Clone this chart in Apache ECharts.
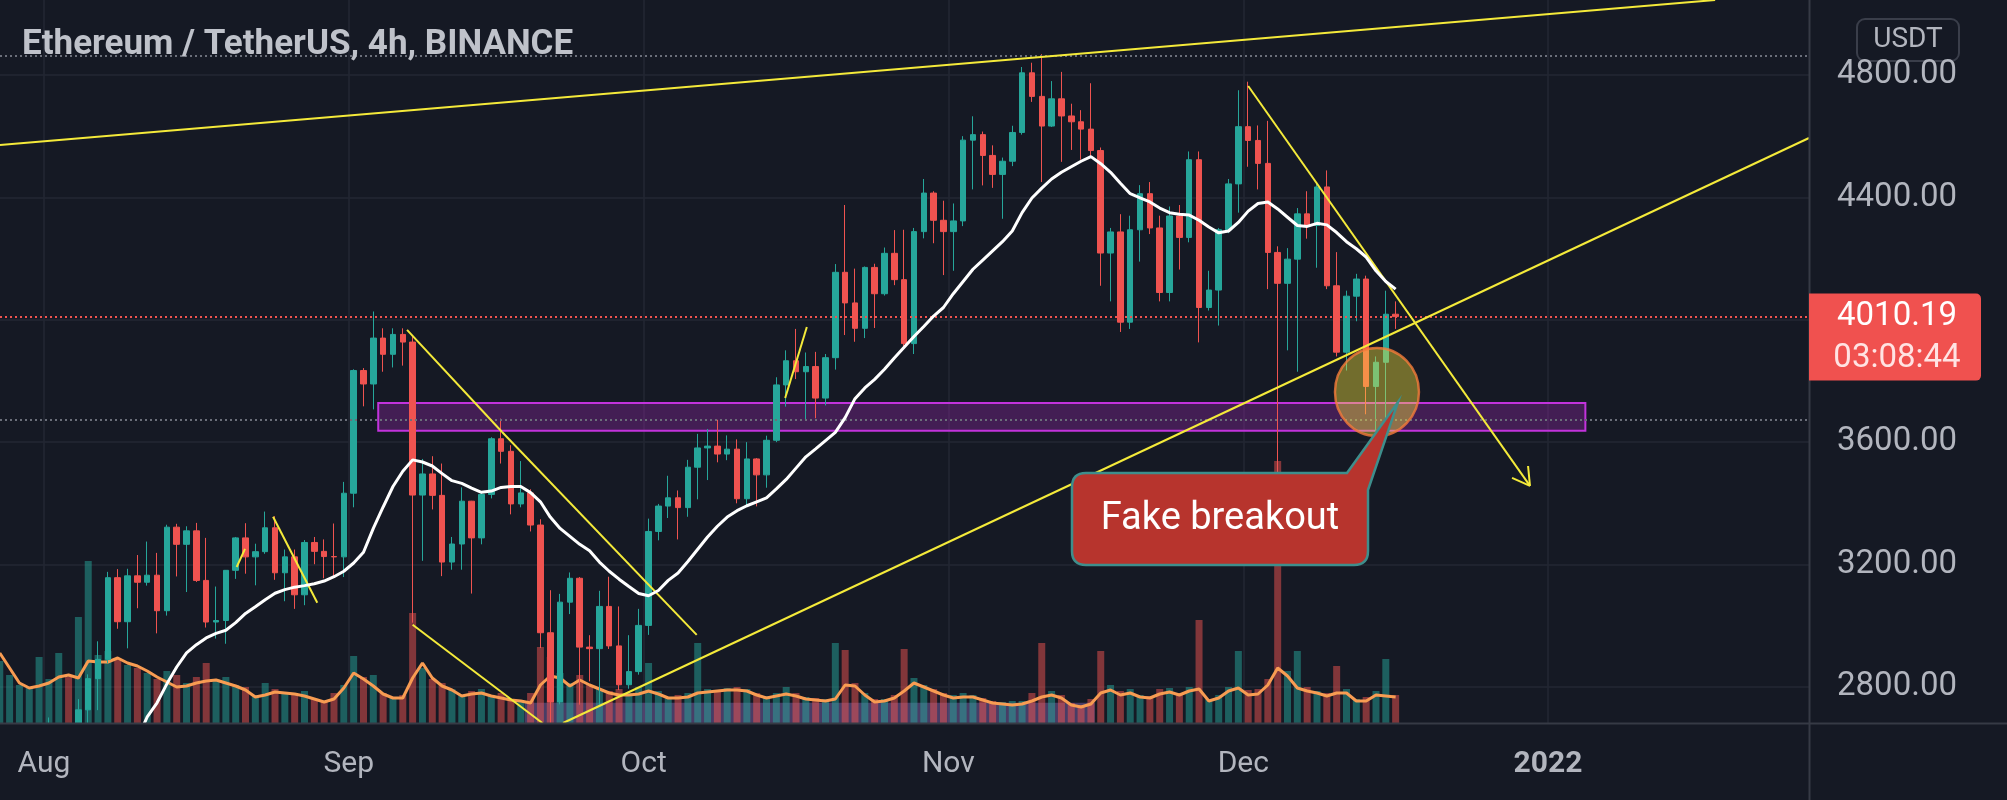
<!DOCTYPE html>
<html>
<head>
<meta charset="utf-8">
<title>Ethereum / TetherUS, 4h, BINANCE</title>
<script src="https://cdn.jsdelivr.net/npm/echarts@6/dist/echarts.min.js"></script>
<style>
  html, body { margin: 0; padding: 0; background: #151924; }
  #chart { width: 2007px; height: 800px; }
</style>
</head>
<body>
<div id="chart"></div>
<script>
// 'YYYY-MM-DD HH:mm' -> UTC ms
function t(s) {
  const [d, hm = '00:00'] = s.split(' ')
  const [y, m, dd] = d.split('-').map(Number)
  const [h, mi] = hm.split(':').map(Number)
  return Date.UTC(y, m - 1, dd, h, mi)
}

// one candle per day, first one is 2021-07-27 (placed at noon UTC)
const firstDay = '2021-07-27 12:00'

// [open, high, low, close]
const candles = [
  [2234, 2319, 2152, 2300], [2300, 2342, 2222, 2300], [2300, 2397, 2256, 2380], [2380, 2468, 2326, 2463], [2463, 2550, 2425, 2536],
  // Aug
  [2536, 2700, 2508, 2557], [2557, 2665, 2540, 2607], [2607, 2630, 2452, 2508], [2508, 2760, 2485, 2725], [2725, 2841, 2527, 2827],
  [2827, 2949, 2724, 2890], [2890, 3176, 2878, 3157], [3157, 3185, 2990, 3013], [3013, 3186, 2926, 3163], [3163, 3231, 3057, 3142],
  [3142, 3275, 3131, 3165], [3165, 3238, 2975, 3049], [3049, 3330, 3033, 3322], [3322, 3333, 3161, 3266], [3266, 3325, 3110, 3310],
  [3310, 3336, 3143, 3148], [3148, 3287, 2994, 3012], [3012, 3128, 2958, 3017], [3017, 3182, 2941, 3181], [3181, 3290, 3153, 3287],
  [3287, 3335, 3170, 3225], [3225, 3268, 3132, 3242], [3242, 3373, 3235, 3320], [3320, 3358, 3150, 3173], [3173, 3249, 3080, 3225],
  [3225, 3249, 3055, 3101], [3101, 3280, 3067, 3272], [3272, 3290, 3201, 3243], [3243, 3282, 3155, 3226], [3226, 3334, 3156, 3225],
  [3225, 3470, 3159, 3433],
  // Sep
  [3433, 3838, 3387, 3834], [3834, 3842, 3717, 3790], [3790, 4027, 3707, 3940], [3940, 3972, 3830, 3887], [3887, 3972, 3844, 3952],
  [3952, 3972, 3850, 3927], [3927, 3950, 3010, 3427], [3427, 3545, 3212, 3496], [3496, 3554, 3380, 3426], [3426, 3530, 3162, 3208],
  [3208, 3290, 3183, 3267], [3267, 3452, 3183, 3407], [3407, 3408, 3105, 3287], [3287, 3434, 3266, 3429], [3429, 3616, 3416, 3611],
  [3611, 3677, 3530, 3570], [3570, 3590, 3364, 3398], [3398, 3538, 3387, 3434], [3434, 3446, 3308, 3329], [3329, 3348, 2927, 2977],
  [2977, 3116, 2652, 2751], [2751, 3104, 2743, 3077], [3077, 3174, 3038, 3155], [3155, 3159, 2742, 2930], [2930, 2969, 2818, 2925],
  [2925, 3114, 2740, 3063], [3063, 3160, 2924, 2934], [2934, 3063, 2790, 2807], [2807, 2969, 2794, 2850], [2850, 3055, 2840, 3001],
  // Oct
  [3001, 3350, 2970, 3308], [3308, 3398, 3279, 3391], [3391, 3490, 3352, 3418], [3418, 3442, 3282, 3386], [3386, 3542, 3356, 3518],
  [3518, 3627, 3413, 3581], [3581, 3643, 3476, 3587], [3587, 3673, 3534, 3561], [3561, 3622, 3541, 3577], [3577, 3609, 3400, 3415],
  [3415, 3600, 3394, 3545], [3545, 3548, 3390, 3493], [3493, 3621, 3451, 3606], [3606, 3812, 3600, 3787], [3787, 3900, 3716, 3866],
  [3866, 3970, 3806, 3830], [3830, 3893, 3674, 3847], [3847, 3895, 3678, 3744], [3744, 3888, 3720, 3876], [3876, 4182, 3837, 4155],
  [4155, 4375, 3950, 4055], [4055, 4167, 3928, 3972], [3972, 4174, 3940, 4171], [4171, 4183, 3973, 4085], [4085, 4236, 4079, 4217],
  [4217, 4293, 4113, 4131], [4131, 4294, 3914, 3922], [3922, 4300, 3888, 4288], [4288, 4460, 4266, 4414], [4414, 4420, 4250, 4325],
  [4325, 4389, 4146, 4288],
  // Nov
  [4288, 4380, 4160, 4323], [4323, 4600, 4306, 4587], [4587, 4665, 4426, 4605], [4605, 4615, 4439, 4537], [4537, 4570, 4431, 4475],
  [4475, 4530, 4330, 4518], [4518, 4634, 4502, 4612], [4612, 4826, 4605, 4807], [4807, 4840, 4712, 4730], [4730, 4868, 4450, 4633],
  [4633, 4780, 4630, 4722], [4722, 4810, 4516, 4666], [4666, 4706, 4555, 4647], [4647, 4685, 4523, 4623], [4623, 4773, 4530, 4553],
  [4553, 4563, 4111, 4218], [4218, 4300, 4060, 4287], [4287, 4345, 3960, 3992], [3992, 4340, 3970, 4294], [4294, 4440, 4190, 4412],
  [4412, 4450, 4280, 4300], [4300, 4340, 4060, 4089], [4089, 4370, 4060, 4339], [4339, 4375, 4164, 4269], [4269, 4550, 4253, 4523],
  [4523, 4550, 3926, 4040], [4040, 4160, 4030, 4097], [4097, 4300, 3981, 4294], [4294, 4460, 4283, 4444], [4444, 4750, 4350, 4631],
  // Dec
  [4631, 4778, 4500, 4586], [4586, 4635, 4426, 4511], [4511, 4650, 4100, 4220], [4220, 4240, 3500, 4119], [4119, 4234, 3900, 4198],
  [4198, 4365, 3830, 4346], [4346, 4420, 4265, 4308], [4308, 4445, 4170, 4434], [4434, 4488, 4100, 4111], [4111, 4221, 3880, 3894],
  [3894, 4095, 3834, 4077], [4077, 4150, 3995, 4133], [4133, 4144, 3691, 3782], [3782, 3880, 3636, 3861], [3861, 4095, 3642, 4018],
  [4018, 4060, 3970, 4010.19]
]

// volume, thousand ETH per 4h bar (typical of that day)
const volumes = [
  62, 48, 38, 36, 66,
  44, 70, 46, 106, 162, 68, 72, 64, 58, 55,
  50, 44, 52, 48, 40, 46, 60, 44, 46, 38,
  36, 28, 40, 34, 30, 28, 32, 24, 22, 30,
  38, 67, 46, 48, 30, 26, 28, 110, 55, 44,
  40, 34, 28, 32, 34, 28, 30, 24, 22, 30,
  76, 66, 50, 40, 48, 38, 34, 32, 34, 30,
  36, 60, 32, 26, 28, 30, 80, 34, 33, 35,
  36, 34, 30, 27, 30, 36, 30, 26, 25, 24,
  80, 73, 40, 30, 24, 24, 28, 74, 45, 38,
  34, 30, 28, 30, 28, 25, 22, 21, 22, 22,
  30, 80, 32, 28, 20, 18, 24, 72, 38, 32,
  34, 28, 27, 34, 35, 30, 36, 103, 24, 28,
  36, 72, 33, 34, 44, 262, 52, 72, 36, 32,
  30, 57, 34, 24, 26, 32, 64, 28
]

// volume moving average (orange)
const volMa = [
  70, 55, 40, 35, 37,
  40, 46, 48, 45, 62, 61, 61, 65, 60, 57,
  52, 46, 41, 36, 37, 40, 42, 43, 40, 37,
  33, 26, 28, 31, 30, 29, 27, 24, 21, 24,
  35, 50, 44, 37, 29, 25, 25, 45, 60, 45,
  37, 33, 27, 29, 30, 27, 25, 23, 22, 20,
  38, 47, 45, 37, 43, 38, 34, 30, 28, 28,
  29, 32, 29, 25, 25, 26, 30, 31, 32, 33,
  33, 32, 28, 25, 27, 29, 27, 24, 23, 22,
  24, 38, 37, 28, 21, 22, 25, 32, 40, 36,
  32, 28, 25, 26, 26, 23, 20, 19, 18, 19,
  22, 26, 28, 25, 18, 16, 19, 30, 33, 28,
  30, 26, 25, 29, 31, 28, 32, 34, 22, 25,
  32, 35, 28, 29, 38, 55, 47, 35, 32, 30,
  27, 30, 30, 22, 22, 28, 27, 26
]

// price moving average (white), starts below the visible range
const priceMa = [
  null, null, null, null, null,
  null, null, null, null, null, null, null, null, null, 2630,
  2702, 2748, 2810, 2865, 2911, 2938, 2960, 2975, 2985, 3010,
  3040, 3062, 3085, 3106, 3118, 3126, 3131, 3137, 3146, 3160,
  3178, 3205, 3240, 3318, 3388, 3455, 3505, 3542, 3535, 3522,
  3497, 3474, 3465, 3450, 3436, 3440, 3452, 3455, 3455, 3435,
  3405, 3355, 3318, 3292, 3266, 3245, 3208, 3178, 3152, 3128,
  3105, 3098, 3115, 3148, 3172, 3210, 3250, 3290, 3325, 3355,
  3376, 3392, 3405, 3418, 3447, 3478, 3515, 3552, 3578, 3605,
  3632, 3680, 3742, 3777, 3805, 3838, 3875, 3910, 3945, 3978,
  4012, 4040, 4085, 4125, 4165, 4195, 4225, 4255, 4290, 4350,
  4398, 4430, 4460, 4482, 4500, 4518, 4533, 4510, 4482, 4446,
  4412, 4398, 4385, 4365, 4350, 4345, 4342, 4325, 4303, 4284,
  4290, 4318, 4355, 4380, 4385, 4362, 4335, 4308, 4305, 4315,
  4310, 4285, 4255, 4232, 4205, 4160, 4125, 4100
]

const monthTicks = ['2021-08-01', '2021-09-01', '2021-10-01', '2021-11-01', '2021-12-01', '2022-01-01']
const monthLabels = ['Aug', 'Sep', 'Oct', 'Nov', 'Dec', '2022']
const priceTicks = [2800, 3200, 3600, 4000, 4400, 4800]
const priceLabels = [2800, 3200, 3600, 4400, 4800]
const lastPrice = 4010.19
const countdown = '03:08:44'

// drawings
const trendLines = [
  [['2021-07-27 12:34', 4571], ['2022-01-18 00:00', 5045]],
  [['2021-09-22 19:12', 2682], ['2022-01-27 13:12', 4594]],
  [['2021-12-01 12:00', 4764], ['2021-12-30 04:00', 3457]],
  [['2021-12-29 23:17', 3522], ['2021-12-30 04:00', 3457]],
  [['2021-12-28 08:10', 3483], ['2021-12-30 04:00', 3457]],
  [['2021-09-06 22:19', 3967], ['2021-09-16 14:24', 3633]],
  [['2021-09-16 14:24', 3633], ['2021-10-06 09:36', 2970]],
  [['2021-09-07 12:00', 3003], ['2021-09-20 16:48', 2682]],
  [['2021-08-20 14:24', 3192], ['2021-08-21 10:48', 3251]],
  [['2021-08-24 07:12', 3356], ['2021-08-28 19:12', 3075]],
  [['2021-10-15 09:36', 3744], ['2021-10-17 14:24', 3976]]
]
const zoneBox = [['2021-09-04 00:00', 3728], ['2022-01-04 19:12', 3637]]
const volumeBox = [['2021-09-18 21:36', 2748], ['2021-11-15 21:36', 2682]]
const hiLine = 4862
const loLine = 3673
const circlePoint = ['2021-12-14 14:24', 3764]
const calloutTip = ['2021-12-16 17:45', 3731]
const calloutText = 'Fake breakout'

const DAY = 86400000
const times = candles.map((c, i) => t(firstDay) + i * DAY)
const monthValues = monthTicks.map((s) => t(s))
const xMin = t('2021-07-27 12:34')
const xMax = t('2022-01-27 13:12')
const UP = '#26a69a'
const DOWN = '#ef5350'
const BG = '#151924'

// speech bubble pointing up-right at the tip
function renderCallout(params, api) {
  const [tx, ty] = api.coord([api.value(0), api.value(1)])
  const L = tx - 326
  const R = tx - 30
  const T = ty + 71
  const B = ty + 163
  const r = 14
  const path = `M ${L + r} ${T} L ${tx - 51} ${T} L ${tx} ${ty} L ${R} ${ty + 88} L ${R} ${B - r} Q ${R} ${B} ${R - r} ${B} L ${L + r} ${B} Q ${L} ${B} ${L} ${B - r} L ${L} ${T + r} Q ${L} ${T} ${L + r} ${T} Z`
  return {
    type: 'group',
    children: [
      { type: 'path', shape: { pathData: path }, style: { fill: '#b7342d', stroke: '#3e8e8c', lineWidth: 2.5 } },
      {
        type: 'text',
        style: { x: tx - 178, y: ty + 117, text: calloutText, fill: '#ffffff', font: '38px Roboto', align: 'center', verticalAlign: 'middle' }
      }
    ]
  }
}

const chart = echarts.init(document.getElementById('chart'))

const option = {
  backgroundColor: BG,
  animation: false,
  grid: { left: 0, right: 198, top: 0, bottom: 77 },
  xAxis: [
    {
      type: 'value',
      min: xMin,
      max: xMax,
      axisLine: { show: false },
      axisTick: { show: false, customValues: monthValues },
      axisLabel: { show: false, customValues: monthValues },
      splitLine: { show: true, lineStyle: { color: '#232733', width: 1.5 } }
    },
    {
      // labels only, kept above the cover strip
      type: 'value',
      position: 'bottom',
      z: 60,
      min: xMin,
      max: xMax,
      axisLine: { show: false },
      axisTick: { show: false, customValues: monthValues },
      splitLine: { show: false },
      axisLabel: {
        customValues: monthValues,
        formatter: (v) => {
          const i = monthValues.indexOf(v)
          const txt = monthLabels[i] || ''
          return i === monthValues.length - 1 ? '{y|' + txt + '}' : txt
        },
        color: '#b2b5be',
        fontSize: 30,
        fontFamily: 'Roboto',
        margin: 26,
        rich: { y: { fontSize: 30, fontWeight: 'bold', color: '#b2b5be', fontFamily: 'Roboto' } }
      }
    }
  ],
  yAxis: [
    {
      type: 'value',
      position: 'right',
      z: 60,
      min: 2682,
      max: 5045,
      axisLine: { show: false },
      axisTick: { show: false, customValues: priceTicks },
      axisLabel: {
        customValues: priceLabels,
        formatter: (v) => v.toFixed(2),
        color: '#b2b5be',
        fontSize: 33,
        fontFamily: 'Roboto',
        margin: 28
      },
      splitLine: { show: false }
    },
    {
      // gridlines only, drawn under the series
      type: 'value',
      position: 'right',
      min: 2682,
      max: 5045,
      axisLine: { show: false },
      axisTick: { show: false, customValues: priceTicks },
      axisLabel: { show: false, customValues: priceTicks },
      splitLine: { show: true, lineStyle: { color: '#232733', width: 1.5 } }
    },
    { type: 'value', min: 0, max: 723, show: false }
  ],
  series: [
    {
      name: 'Volume',
      type: 'bar',
      yAxisIndex: 2,
      barWidth: 7,
      z: 1,
      data: volumes.map((v, i) => ({
        value: [times[i], v],
        itemStyle: { color: candles[i][3] >= candles[i][0] ? 'rgba(38,166,154,0.5)' : 'rgba(239,83,80,0.5)' }
      }))
    },
    {
      name: 'Volume MA',
      type: 'line',
      yAxisIndex: 2,
      symbol: 'none',
      z: 3,
      lineStyle: { color: '#f89c52', width: 3 },
      data: volMa.map((v, i) => [times[i], v])
    },
    {
      name: 'ETHUSDT',
      type: 'candlestick',
      barWidth: 6,
      z: 4,
      itemStyle: { color: UP, color0: DOWN, borderColor: UP, borderColor0: DOWN, borderWidth: 1 },
      data: candles.map((c, i) => [times[i], c[0], c[3], c[2], c[1]]),
      markLine: {
        silent: true,
        symbol: 'none',
        label: { show: false },
        data: [
          { yAxis: lastPrice, lineStyle: { color: DOWN, type: [2, 3], width: 2 } },
          { yAxis: hiLine, lineStyle: { color: '#6b6f7a', type: [2, 3], width: 2 } },
          { yAxis: loLine, lineStyle: { color: '#6b6f7a', type: [2, 3], width: 2 } }
        ].concat(trendLines.map((ln) => [
          { coord: [t(ln[0][0]), ln[0][1]], lineStyle: { color: '#f4ea3a', width: 2, type: 'solid' } },
          { coord: [t(ln[1][0]), ln[1][1]] }
        ]))
      },
      markArea: {
        silent: true,
        data: [
          [
            { coord: [t(zoneBox[0][0]), zoneBox[0][1]], itemStyle: { color: 'rgba(156,39,176,0.35)', borderColor: '#c233dc', borderWidth: 2 } },
            { coord: [t(zoneBox[1][0]), zoneBox[1][1]] }
          ],
          [
            { coord: [t(volumeBox[0][0]), volumeBox[0][1]], itemStyle: { color: 'rgba(170,130,225,0.35)' } },
            { coord: [t(volumeBox[1][0]), volumeBox[1][1]] }
          ]
        ]
      }
    },
    {
      name: 'MA',
      type: 'line',
      symbol: 'none',
      z: 5,
      lineStyle: { color: '#ffffff', width: 3 },
      data: priceMa.map((v, i) => [times[i], v])
    },
    {
      name: 'circle',
      type: 'scatter',
      z: 6,
      symbolSize: [84, 88],
      itemStyle: { color: 'rgba(255,235,59,0.5)', borderColor: '#f57c3a', borderWidth: 2.5 },
      data: [[t(circlePoint[0]), circlePoint[1]]]
    },
    {
      name: 'callout',
      type: 'custom',
      z: 7,
      silent: true,
      clip: false,
      renderItem: renderCallout,
      data: [[t(calloutTip[0]), calloutTip[1]]]
    }
  ],
  graphic: [
    // strip under the plot, hides candle parts below the axis
    { type: 'rect', z: 55, shape: { x: 0, y: 724, width: 1810, height: 76 }, style: { fill: BG } },
    {
      type: 'text', z: 50,
      style: { x: 22, y: 45, text: 'Ethereum / TetherUS, 4h, BINANCE', fill: '#bfc2ca', font: '700 35px Roboto', verticalAlign: 'middle' }
    },
    { type: 'line', z: 61, shape: { x1: 1809.5, y1: 0, x2: 1809.5, y2: 800 }, style: { stroke: '#363a45', lineWidth: 2 } },
    { type: 'line', z: 61, shape: { x1: 0, y1: 723.5, x2: 2007, y2: 723.5 }, style: { stroke: '#363a45', lineWidth: 2 } },
    {
      type: 'rect', z: 50,
      shape: { x: 1857, y: 19, width: 102, height: 42, r: 8 },
      style: { fill: BG, stroke: '#3a3e4a', lineWidth: 2 }
    },
    {
      type: 'text', z: 51,
      style: { x: 1908, y: 40, text: 'USDT', fill: '#b2b5be', font: '28px Roboto', align: 'center', verticalAlign: 'middle' }
    }
  ]
}

chart.setOption(option)

// last price tag on the price scale
const py = chart.convertToPixel({ yAxisIndex: 0 }, lastPrice)
chart.setOption({
  graphic: option.graphic.concat([
    {
      type: 'rect', z: 62,
      shape: { x: 1809, y: py - 23, width: 172, height: 87, r: [0, 5, 5, 0] },
      style: { fill: '#f0514f' }
    },
    {
      type: 'text', z: 63,
      style: { x: 1897, y: py, text: lastPrice.toFixed(2), fill: '#ffffff', font: '33px Roboto', align: 'center', verticalAlign: 'middle' }
    },
    {
      type: 'text', z: 63,
      style: { x: 1897, y: py + 42, text: countdown, fill: '#ffe3e3', font: '33px Roboto', align: 'center', verticalAlign: 'middle' }
    }
  ])
}, { replaceMerge: ['graphic'] })
</script>
</body>
</html>
